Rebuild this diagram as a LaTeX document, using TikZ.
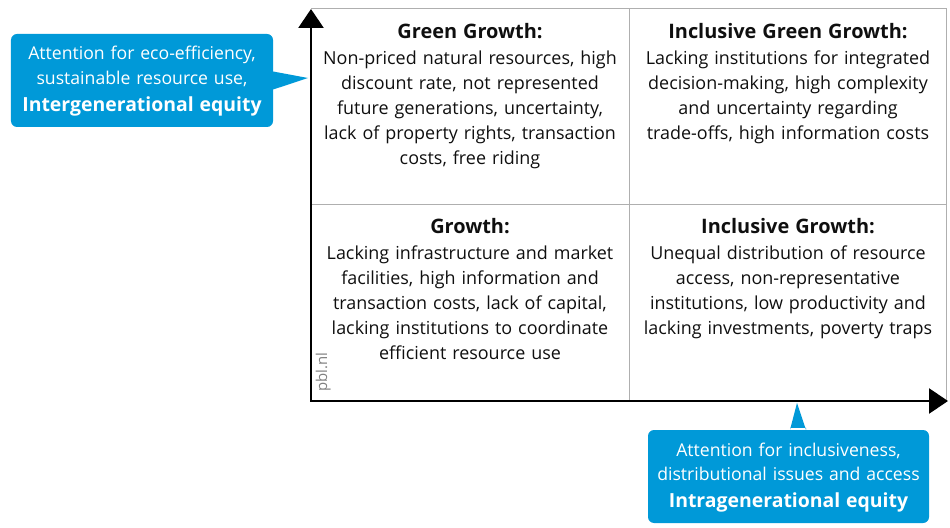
\documentclass[tikz,border=0pt]{standalone}
\usepackage{fontspec}
\setmainfont{Open Sans}
\usetikzlibrary{arrows.meta}
\definecolor{pblblue}{RGB}{0,153,216}
\definecolor{gridgray}{RGB}{175,175,175}
\definecolor{txt}{RGB}{15,15,15}
\newcommand{\headfont}{\fontsize{20}{25}\selectfont\bfseries}
\newcommand{\calloutbold}{\fontsize{19.5}{25}\selectfont\bfseries}
\begin{document}
\begin{tikzpicture}[x=1bp,y=-1bp,
  gridline/.style={draw=gridgray, line width=1bp},
  axis/.style={line width=2.6bp, black, {Triangle[width=25bp,length=19bp]}-{Triangle[width=25bp,length=19bp]}},
  cell/.style={anchor=base, align=center, inner sep=0pt, text=txt, text width=318bp,
    font=\fontsize{18}{25}\selectfont},
  callout/.style={fill=pblblue, rounded corners=6bp, inner sep=0pt},
  callouttext/.style={anchor=base, align=center, inner sep=0pt, text=white, text width=300bp,
    font=\fontsize{17.7}{25}\selectfont},
  pointer/.style={fill=pblblue}
]
\useasboundingbox (0,0) rectangle (950,528);
% grid
\coordinate (tl) at (311,9);
\coordinate (tm) at (629,9);
\coordinate (tr) at (946,9);
\coordinate (ml) at (311,205);
\coordinate (mr) at (946,205);
\coordinate (bm) at (629,401);
\coordinate (br) at (946,401);
\coordinate (origin) at (311,401);
\coordinate (ytip) at (311,9);
\coordinate (xtip) at (948,401);
\draw[gridline] (tl) -- (tr) -- (br);
\draw[gridline] (tm) -- (bm);
\draw[gridline] (ml) -- (mr);
\draw[axis] (ytip) -- (origin) -- (xtip);
% cells
\node[cell] (gg) at (470,38.5) {{\headfont Green Growth:}\\[1bp]
  Non-priced natural resources, high\\ discount rate, not represented\\ future generations, uncertainty,\\ lack of property rights, transaction\\ costs, free riding};
\node[cell] (igg) at (788,38.5) {{\headfont Inclusive Green Growth:}\\[1bp]
  Lacking institutions for integrated\\ decision-making, high complexity\\ and uncertainty regarding\\ trade-offs, high information costs};
\node[cell] (g) at (470,234) {{\headfont Growth:}\\[1bp]
  Lacking infrastructure and market\\ facilities, high information and\\ transaction costs, lack of capital,\\ lacking institutions to coordinate\\ efficient resource use};
\node[cell] (ig) at (788,234) {{\headfont Inclusive Growth:}\\[1bp]
  Unequal distribution of resource\\ access, non-representative\\ institutions, low productivity and\\ lacking investments, poverty traps};
\node[rotate=90, anchor=base, text=gray, inner sep=0pt, font=\fontsize{15}{18}\selectfont] (pbl) at (327,372) {pbl.nl};
% callout 1
\node[callout, minimum width=262bp, minimum height=93bp] (c1) at (142,80.5) {};
\coordinate (c1tip) at (308,78);
\fill[pointer] ([yshift=-9bp]c1.east) -- (c1tip) -- ([yshift=9bp]c1.east) -- ([xshift=-2bp,yshift=9bp]c1.east) -- ([xshift=-2bp,yshift=-9bp]c1.east) -- cycle;
\node[callouttext] (c1t) at (142,60) {Attention for eco-efficiency,\\ sustainable resource use,\\[2bp] {\calloutbold Intergenerational equity}};
% callout 2
\node[callout, minimum width=281bp, minimum height=93bp] (c2) at (788.5,476.5) {};
\coordinate (c2tip) at (797,403);
\fill[pointer] ([xshift=-7bp]c2tip |- c2.north) -- (c2tip) -- ([xshift=9bp]c2tip |- c2.north) -- ([xshift=9bp,yshift=2bp]c2tip |- c2.north) -- ([xshift=-7bp,yshift=2bp]c2tip |- c2.north) -- cycle;
\node[callouttext] (c2t) at (788.5,456) {Attention for inclusiveness,\\ distributional issues and access\\[2bp] {\calloutbold Intragenerational equity}};
\end{tikzpicture}
\end{document}
